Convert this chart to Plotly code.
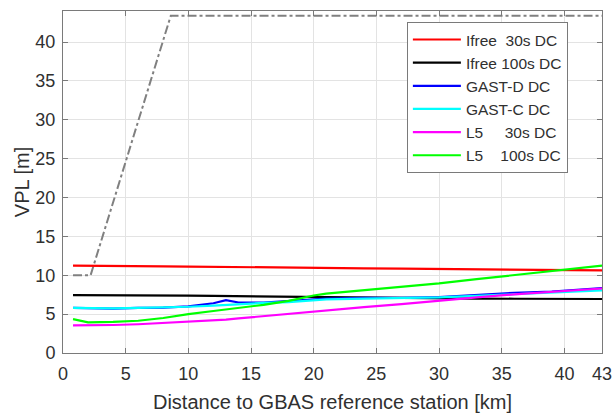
import plotly.graph_objects as go

# ---- data ----
dist = [0.8, 2, 4, 6, 8, 10, 12, 13, 14, 16, 18, 20, 21, 24, 27, 30, 33, 36, 39, 42, 43]

ifree30 = [11.25, 11.22, 11.2, 11.17, 11.15, 11.12, 11.1, 11.08, 11.06, 11.03, 11.0, 10.97,
           10.95, 10.9, 10.85, 10.8, 10.75, 10.7, 10.68, 10.65, 10.64]
ifree100 = [7.45, 7.45, 7.42, 7.4, 7.4, 7.38, 7.35, 7.33, 7.3, 7.28, 7.25, 7.2,
            7.18, 7.15, 7.1, 7.05, 7.0, 6.98, 6.97, 6.95, 6.95]
gastd = [5.8, 5.75, 5.7, 5.8, 5.85, 6.0, 6.4, 6.8, 6.5, 6.5, 6.7, 6.9,
         7.0, 7.1, 7.1, 7.2, 7.5, 7.75, 7.9, 8.2, 8.35]
gastc = [5.8, 5.75, 5.75, 5.8, 5.85, 5.95, 6.1, 6.2, 6.3, 6.45, 6.55, 6.8,
         6.9, 7.0, 7.05, 7.15, 7.35, 7.55, 7.75, 7.95, 8.05]
l5_30 = [3.55, 3.55, 3.6, 3.7, 3.85, 4.0, 4.2, 4.3, 4.45, 4.75, 5.05, 5.35,
         5.45, 5.9, 6.3, 6.75, 7.15, 7.55, 7.9, 8.25, 8.3]
l5_100 = [4.35, 3.95, 4.0, 4.15, 4.5, 5.0, 5.4, 5.6, 5.8, 6.2, 6.7, 7.4,
          7.65, 8.1, 8.5, 8.95, 9.5, 10.05, 10.6, 11.1, 11.25]

val_x = [0.8, 2.2, 8.6, 43]
val_y = [10, 10, 43.4, 43.4]

series = [
    ("Ifree\u00a0\u00a030s DC", ifree30, "#ff0000"),
    ("Ifree 100s DC", ifree100, "#000000"),
    ("GAST-D DC", gastd, "#0000ff"),
    ("GAST-C DC", gastc, "#00ffff"),
    ("L5\u00a0\u00a0\u00a0\u00a0\u00a030s DC", l5_30, "#ff00ff"),
    ("L5\u00a0\u00a0\u00a0\u00a0100s DC", l5_100, "#00ff00"),
]

xticks = [0, 5, 10, 15, 20, 25, 30, 35, 40, 43]
yticks = [0, 5, 10, 15, 20, 25, 30, 35, 40]

fig = go.Figure()
fig.add_trace(go.Scatter(x=val_x, y=val_y, mode="lines", showlegend=False,
                         line=dict(color="#808080", width=2, dash="dashdot")))
for name, vals, col in series:
    fig.add_trace(go.Scatter(x=dist, y=vals, mode="lines", name=name,
                             line=dict(color=col, width=2.2)))

font = "Liberation Sans, Arial, Helvetica, sans-serif"
txt = "#303030"
axis_common = dict(showline=True, linecolor="#7a7a7a", linewidth=1, mirror="ticks",
                   ticks="inside", ticklen=5, tickcolor="#7a7a7a",
                   showgrid=True, gridcolor="#e3e3e3", gridwidth=1, zeroline=False,
                   automargin=False,
                   tickfont=dict(family=font, size=18, color=txt))

fig.update_layout(
    width=612, height=414,
    margin=dict(l=63, r=10, t=11, b=61),
    paper_bgcolor="white", plot_bgcolor="white",
    font=dict(family=font, color=txt),
    xaxis=dict(range=[0, 43], tickvals=xticks, ticktext=[str(t) for t in xticks],
               ticklabeloverflow="allow", ticklabelstandoff=4,
               title=dict(text="Distance to GBAS reference station [km]",
                          font=dict(size=20, family=font, color=txt), standoff=12),
               **axis_common),
    yaxis=dict(range=[0, 44], tickvals=yticks, ticklabelstandoff=3,
               title=dict(text="VPL [m]", font=dict(size=20, family=font, color=txt),
                          standoff=0),
               **axis_common),
    legend=dict(x=0.638, y=0.968, xanchor="left", yanchor="top",
                bgcolor="white", bordercolor="#7a7a7a", borderwidth=1,
                font=dict(family=font, size=15.5, color=txt),
                itemwidth=48, tracegroupgap=0),
)

fig.write_html("out.html")
